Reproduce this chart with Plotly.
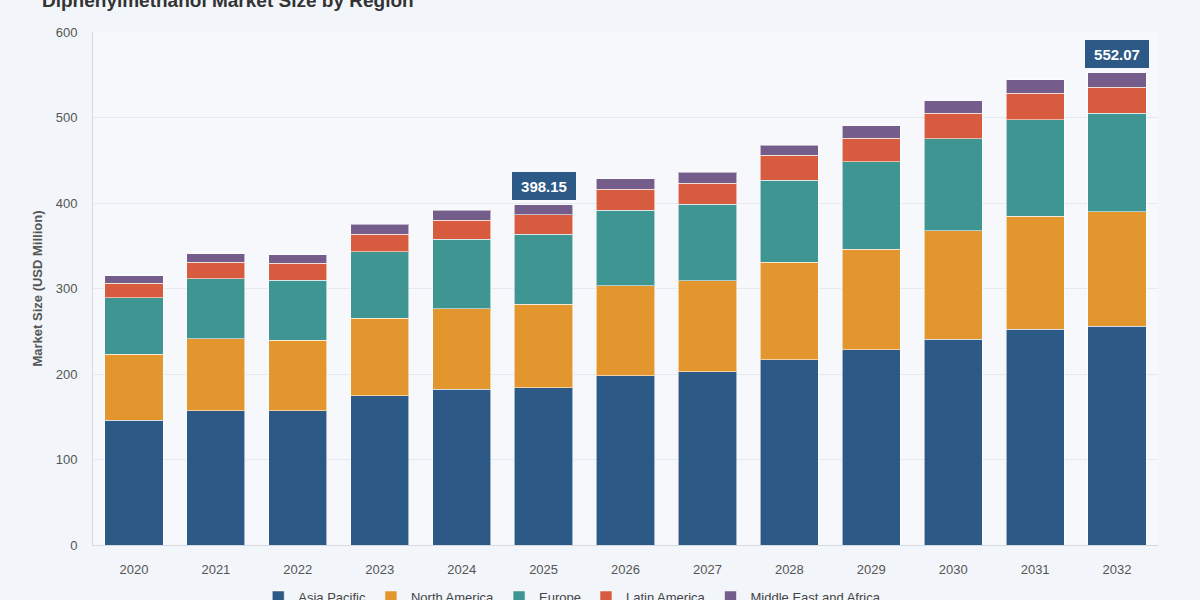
import plotly.graph_objects as go

# dados
anos = [2020, 2021, 2022, 2023, 2024, 2025, 2026,
        2027, 2028, 2029, 2030, 2031, 2032]

asia_pacific = [146.0, 157.0, 157.1, 174.3, 182.1, 184.0, 197.7,
                202.7, 216.4, 228.1, 240.6, 252.3, 256.1]
north_america = [77.2, 84.0, 82.3, 91.2, 94.3, 97.5, 105.6,
                 106.1, 114.2, 118.1, 126.7, 132.5, 133.8]
europe = [66.0, 70.2, 70.5, 77.2, 81.5, 82.2, 88.5,
          90.0, 96.3, 102.1, 107.6, 112.3, 115.0]
latin_america = [16.8, 19.5, 19.5, 21.0, 22.2, 22.3, 24.2,
                 24.2, 29.1, 27.3, 30.0, 31.2, 30.4]
middle_east_africa = [9.0, 9.8, 9.8, 11.3, 11.7, 12.15, 12.1,
                      12.9, 11.8, 14.5, 14.8, 15.6, 16.77]

series = [
    ('Asia Pacific', asia_pacific, '#2c5986'),
    ('North America', north_america, '#e3962e'),
    ('Europe', europe, '#3f9592'),
    ('Latin America', latin_america, '#d65b3f'),
    ('Middle East and Africa', middle_east_africa, '#745d8b'),
]

# anos com o total destacado
destaques = [2025, 2032]

fig = go.Figure()
for nome, valores, cor in series:
    fig.add_trace(go.Bar(
        x=anos, y=valores, name=nome,
        marker=dict(color=cor, line=dict(color='rgba(255,255,255,0.55)', width=1)),
    ))

totais = [sum(v) for v in zip(asia_pacific, north_america, europe,
                              latin_america, middle_east_africa)]
for ano in destaques:
    total = totais[anos.index(ano)]
    fig.add_annotation(
        x=ano, y=total, text='<b>%.2f</b>' % total, showarrow=False,
        yanchor='bottom', yshift=5, width=52, height=16,
        font=dict(family='Arial, Liberation Sans, sans-serif', size=15, color='white'),
        bgcolor='#2c5986', bordercolor='#2c5986', borderwidth=1, borderpad=5,
    )

fig.update_layout(
    barmode='stack',
    bargap=0.29,
    width=1200, height=600,
    margin=dict(l=93, r=42, t=32, b=55, autoexpand=False),
    paper_bgcolor='#f2f5fa',
    plot_bgcolor='#f6f8fb',
    font=dict(family='Arial, Liberation Sans, sans-serif', color='#555555', size=13),
    title=dict(text='<b>Diphenylmethanol Market Size by Region</b>',
               x=0.035, xanchor='left', yref='container', y=1.0, yanchor='middle',
               font=dict(size=19, color='#333333')),
    legend=dict(orientation='h', x=0.45, xanchor='center',
                yref='container', y=0.03, yanchor='top',
                font=dict(size=13, color='#444444'), traceorder='normal'),
    showlegend=True,
)

fig.update_xaxes(type='linear', range=[2019.5, 2032.5], tickmode='array', tickvals=anos,
                 ticktext=[str(a) for a in anos], ticklabelstandoff=12,
                 showline=True, linecolor='#d5d9e0', linewidth=1,
                 ticks='', tickfont=dict(size=13, color='#555555'), showgrid=False, zeroline=False)
fig.update_yaxes(range=[0, 600], dtick=100, showline=True, linecolor='#d5d9e0', linewidth=1,
                 gridcolor='#e6e9ef', zeroline=False, ticklabelstandoff=12,
                 tickfont=dict(size=13, color='#555555'),
                 title=dict(text='<b>Market Size (USD Million)</b>', standoff=10,
                            font=dict(size=13, color='#555555')))

# tira a margem padrão da página para o gráfico ocupar a janela toda
fig.write_html("out.html", config={'displayModeBar': False},
               post_script="document.body.style.margin='0';document.body.style.overflow='hidden';")
